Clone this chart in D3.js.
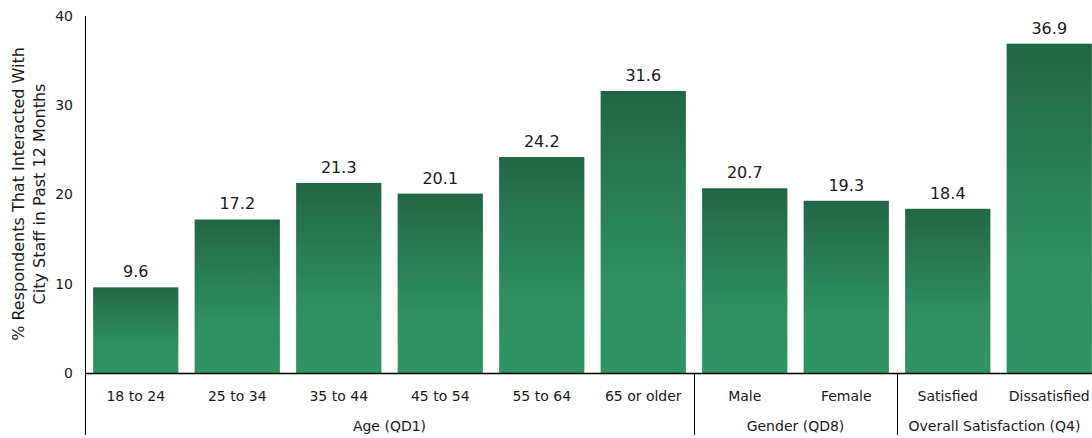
<!DOCTYPE html>
<html>
<head>
<meta charset="utf-8">
<script src="https://cdn.jsdelivr.net/npm/d3@7"></script>
<style>
body{margin:0;background:#fff;}
text{font-family:"DejaVu Sans",Verdana,sans-serif;fill:#1a1a1a;}
</style>
</head>
<body>
<div id="chart"></div>
<script>
var categories = ["18 to 24","25 to 34","35 to 44","45 to 54","55 to 64","65 or older","Male","Female","Satisfied","Dissatisfied"];
var values = [9.6,17.2,21.3,20.1,24.2,31.6,20.7,19.3,18.4,36.9];
var groups = ["Age (QD1)","Gender (QD8)","Overall Satisfaction (Q4)"];
var groupSizes = [6,2,2];
var yTicks = [0,10,20,30,40];

var width = 1092, height = 438;
var svg = d3.select("#chart").append("svg").attr("width",width).attr("height",height);

var x = d3.scaleBand().domain(categories).range([85,1100]).paddingInner(0.16).paddingOuter(0.08);
var y = d3.scaleLinear().domain([0,40]).range([373,16]);

var grad = svg.append("defs").append("linearGradient")
    .attr("id","barGrad").attr("x1",0).attr("y1",0).attr("x2",0).attr("y2",1);
grad.append("stop").attr("offset","0%").attr("stop-color","#226645");
grad.append("stop").attr("offset","65%").attr("stop-color","#2e8f60");
grad.append("stop").attr("offset","100%").attr("stop-color","#2f9465");

// bars
svg.selectAll("rect.bar").data(values).enter().append("rect")
    .attr("class","bar")
    .attr("x",function(d,i){return x(categories[i]);})
    .attr("y",function(d){return y(d);})
    .attr("width",x.bandwidth())
    .attr("height",function(d){return y(0)-y(d);})
    .attr("fill","url(#barGrad)");

svg.selectAll("text.val").data(values).enter().append("text")
    .attr("class","val")
    .attr("x",function(d,i){return x(categories[i])+x.bandwidth()/2;})
    .attr("y",function(d){return y(d)-10;})
    .attr("text-anchor","middle")
    .style("font-size","16px")
    .text(function(d){return d.toFixed(1);});

// y axis
var yAxis = d3.axisLeft(y).tickValues(yTicks).tickSize(0).tickPadding(12);
var gy = svg.append("g").attr("transform","translate(85,0)").call(yAxis);
gy.select(".domain").remove();
gy.selectAll("text").style("font-size","14px").attr("font-family","DejaVu Sans");
svg.append("line").attr("x1",85.5).attr("x2",85.5).attr("y1",16).attr("y2",435).attr("stroke","#000");

// x axis
svg.append("line").attr("x1",85).attr("x2",1092).attr("y1",373.5).attr("y2",373.5).attr("stroke","#000").attr("stroke-width",1.3);
svg.selectAll("text.cat").data(categories).enter().append("text")
    .attr("class","cat")
    .attr("x",function(d){return x(d)+x.bandwidth()/2;})
    .attr("y",401)
    .attr("text-anchor","middle")
    .style("font-size","14px")
    .text(function(d){return d;});

var step = x.step(), start = 85, idx = 0;
groups.forEach(function(g,k){
    var x0 = start + idx*step;
    var x1 = Math.min(start + (idx+groupSizes[k])*step, 1092);
    svg.append("text").attr("x",(x0+x1)/2).attr("y",431).attr("text-anchor","middle")
        .style("font-size","14px").text(g);
    idx += groupSizes[k];
    if(k<groups.length-1){
        var sx = Math.round(start + idx*step)+0.5;
        svg.append("line").attr("x1",sx).attr("x2",sx).attr("y1",373).attr("y2",435).attr("stroke","#000");
    }
});

// y title
var yt = svg.append("text").attr("transform","translate(24,194) rotate(-90)").attr("text-anchor","middle").style("font-size","16px");
yt.append("tspan").attr("x",0).attr("dy",0).text("% Respondents That Interacted With");
yt.append("tspan").attr("x",0).attr("dy",21).text("City Staff in Past 12 Months");
</script>
</body>
</html>
